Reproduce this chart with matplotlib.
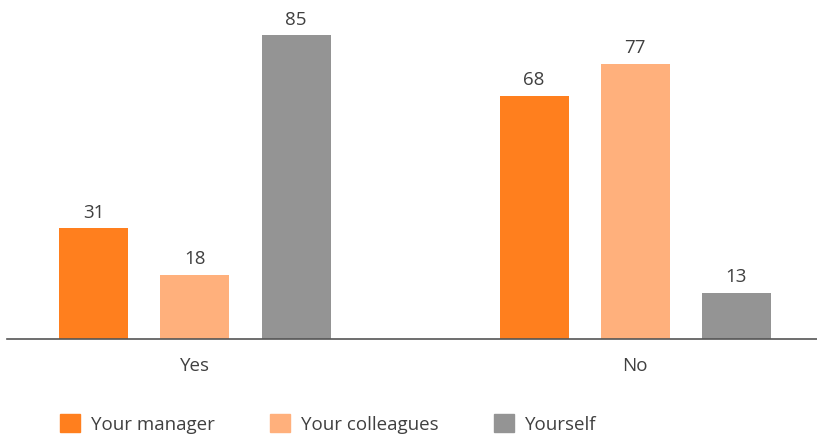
import matplotlib
matplotlib.use("Agg")
import matplotlib.pyplot as plt
from matplotlib.patches import Patch
import numpy as np

plt.rcParams['font.family'] = ['Open Sans', 'DejaVu Sans']

categories = ['Yes', 'No']
series_names = ['Your manager', 'Your colleagues', 'Yourself']
manager = [31, 68]
colleagues = [18, 77]
yourself = [85, 13]

colors = ['#FF7F1E', '#FFB07C', '#949494']
text_color = '#404040'

fig = plt.figure(figsize=(8.17, 4.34), dpi=100)
ax = fig.add_axes([7 / 817, 95 / 434, 810 / 817, 339 / 434])

x = np.arange(len(categories))
offset = 101 / 440
width = 69 / 440

for i, (vals, c) in enumerate(zip([manager, colleagues, yourself], colors)):
    bars = ax.bar(x + (i - 1) * offset, vals, width=width, color=c)
    for b, v in zip(bars, vals):
        ax.text(b.get_x() + b.get_width() / 2, v + 1.8, str(v),
                ha='center', va='bottom', fontsize=13.5, color=text_color)

ax.set_xlim(-188 / 440, 622 / 440)
ax.set_ylim(0, 94.8)
ax.set_yticks([])
ax.set_xticks(x)
ax.set_xticklabels(categories, fontsize=13.5, color=text_color)
ax.tick_params(axis='x', length=0, pad=13)
for s in ['top', 'right', 'left']:
    ax.spines[s].set_visible(False)
ax.spines['bottom'].set_color('#555555')
ax.spines['bottom'].set_linewidth(1.2)

handles = [Patch(color=c) for c in colors]
fig.legend(handles, series_names, loc='center left',
           bbox_to_anchor=(60 / 817, 10 / 434), ncol=3, frameon=False,
           fontsize=13.5, handlelength=1.05, handleheight=1.05,
           handletextpad=0.6, columnspacing=2.95, borderpad=0, borderaxespad=0,
           labelcolor=text_color)

fig.savefig('out.png', dpi=100)
